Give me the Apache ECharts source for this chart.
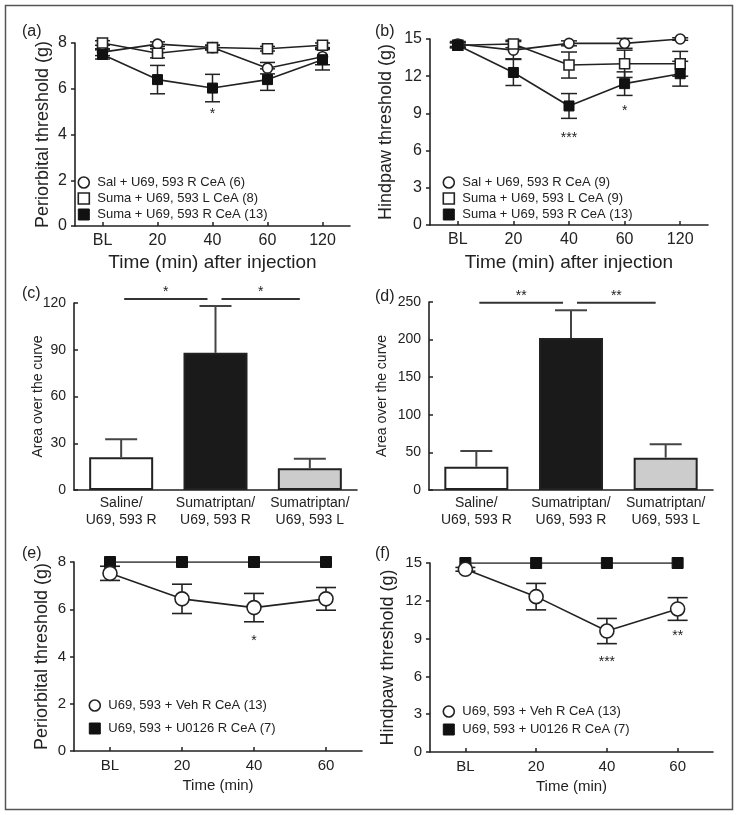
<!DOCTYPE html>
<html><head><meta charset="utf-8">
<script src="https://cdn.jsdelivr.net/npm/echarts@6/dist/echarts.min.js"></script>
<style>html,body{margin:0;padding:0;background:#fff}#chart{width:739px;height:815px}</style>
</head><body><div id="chart"></div>
<script>
// ---------- DATA ----------
const timeCatsAB = ['BL', '20', '40', '60', '120'];
const timeCatsEF = ['BL', '20', '40', '60'];
const groupCats = ['Saline/\nU69, 593 R', 'Sumatriptan/\nU69, 593 R', 'Sumatriptan/\nU69, 593 L'];

const nameASal = 'Sal + U69, 593 R CeA (6)';
const nameASumaL = 'Suma + U69, 593 L CeA (8)';
const nameSumaR = 'Suma + U69, 593 R CeA (13)';
const nameBSal = 'Sal + U69, 593 R CeA (9)';
const nameBSumaL = 'Suma + U69, 593 L CeA (9)';
const nameVeh = 'U69, 593 + Veh R CeA (13)';
const nameU0126 = 'U69, 593 + U0126 R CeA (7)';

const aSal = [7.6, 7.95, 7.8, 6.9, 7.4];
const aSalErr = [0.15, 0.1, 0.1, 0.25, 0.35];
const aSumaL = [8.0, 7.55, 7.8, 7.75, 7.9];
const aSumaLErr = [0.1, 0.2, 0.1, 0.1, 0.1];
const aSumaR = [7.5, 6.4, 6.03, 6.4, 7.27];
const aSumaRErr = [0.2, 0.62, 0.6, 0.47, 0.45];

const bSal = [14.6, 14.1, 14.65, 14.65, 15.0];
const bSalErr = [0.2, 0.7, 0.2, 0.4, 0.1];
const bSumaL = [14.5, 14.6, 12.9, 13.0, 13.0];
const bSumaLErr = [0.2, 0.3, 1.05, 1.1, 1.0];
const bSumaR = [14.5, 12.3, 9.6, 11.4, 12.2];
const bSumaRErr = [0.2, 1.05, 1.0, 0.95, 1.0];

const cArea = [21, 88, 14];
const cAreaErr = [11.5, 30, 6];
const dArea = [31, 202, 43];
const dAreaErr = [21, 37, 18];

const eVeh = [7.52, 6.44, 6.07, 6.44];
const eVehErr = [0.3, 0.62, 0.6, 0.48];
const eU0126 = [8, 8, 8, 8];
const fVeh = [14.5, 12.33, 9.6, 11.35];
const fVehErr = [0.15, 1.05, 1.0, 0.9];
const fU0126 = [15, 15, 15, 15];

// significance marks: [category index, value, text]
const aStars = [[2, 5.05, '*']];
const bStars = [[2, 7.3, '***'], [3, 9.5, '*']];
const eStars = [[2, 4.8, '*']];
const fStars = [[2, 7.4, '***'], [3, 9.5, '**']];
// comparison lines: [from category, to category, value, text]
const cCompare = [[0, 1, 122.6, '*'], [1, 2, 122.6, '*']];
const dCompare = [[0, 1, 249, '**'], [1, 2, 249, '**']];

// ---------- STYLE ----------
const FF = 'Liberation Sans, Arial, Helvetica, sans-serif';
const INK = '#222';
const barColors = ['#ffffff', '#1a1a1a', '#cccccc'];

const openCircle = { color: '#fff', borderColor: INK, borderWidth: 1.6 };
const openSquare = { color: '#fff', borderColor: INK, borderWidth: 1.6 };
const filledSquare = { color: '#111', borderColor: '#111', borderWidth: 1 };

function xTime(gi, cats, fs, name, nameGap, nameFs) {
  return {
    type: 'category', gridIndex: gi, data: cats, boundaryGap: true,
    axisLine: { lineStyle: { color: INK, width: 1.6 } },
    axisTick: { show: true, inside: true, alignWithLabel: true, length: 4, lineStyle: { color: INK, width: 1.5 } },
    axisLabel: { color: INK, fontSize: fs, margin: 7, fontFamily: FF, interval: 0 },
    name: name, nameLocation: 'middle', nameGap: nameGap, nameMoveOverlap: false,
    nameTextStyle: { fontSize: nameFs, color: INK, fontFamily: FF }
  };
}
function xGroup(gi) {
  return {
    type: 'category', gridIndex: gi, data: groupCats, boundaryGap: true,
    axisLine: { lineStyle: { color: INK, width: 1.6 } },
    axisTick: { show: false },
    axisLabel: { color: INK, fontSize: 14, lineHeight: 17, margin: 5, fontFamily: FF, interval: 0 }
  };
}
function yVal(gi, max, interval, fs, name, nameGap, nameFs, inside) {
  return {
    type: 'value', gridIndex: gi, min: 0, max: max, interval: interval,
    axisLine: { show: true, lineStyle: { color: INK, width: 1.6 } },
    axisTick: { show: true, inside: !!inside, length: 4, lineStyle: { color: INK, width: 1.5 } },
    splitLine: { show: false },
    axisLabel: { color: INK, fontSize: fs, margin: 8, fontFamily: FF },
    name: name, nameLocation: 'middle', nameRotate: 90, nameGap: nameGap, nameMoveOverlap: false,
    nameTextStyle: { fontSize: nameFs, color: INK, fontFamily: FF }
  };
}
function lineSeries(gi, name, data, symbol, size, style) {
  return {
    type: 'line', name: name, xAxisIndex: gi, yAxisIndex: gi, data: data,
    symbol: symbol, symbolSize: size, itemStyle: style,
    lineStyle: { color: INK, width: 1.6 }, z: 3, silent: true, animation: false
  };
}
function errSeries(gi, vals, errs, cap, upOnly, color, width) {
  return {
    type: 'custom', xAxisIndex: gi, yAxisIndex: gi, z: upOnly ? 4 : 2, silent: true, animation: false,
    data: vals.map((v, i) => [i, v, errs[i]]),
    renderItem: function (params, api) {
      const i = api.value(0), v = api.value(1), e = api.value(2);
      const top = api.coord([i, v + e]);
      const bot = api.coord([i, upOnly ? v : v - e]);
      const h = cap / 2;
      const st = { stroke: color, lineWidth: width };
      const ch = [
        { type: 'line', shape: { x1: top[0], y1: top[1], x2: bot[0], y2: bot[1] }, style: st },
        { type: 'line', shape: { x1: top[0] - h, y1: top[1], x2: top[0] + h, y2: top[1] }, style: st }
      ];
      if (!upOnly) ch.push({ type: 'line', shape: { x1: bot[0] - h, y1: bot[1], x2: bot[0] + h, y2: bot[1] }, style: st });
      return { type: 'group', children: ch };
    }
  };
}
function starSeries(gi, marks) {
  return {
    type: 'custom', xAxisIndex: gi, yAxisIndex: gi, z: 5, silent: true, animation: false,
    data: marks.map(m => [m[0], m[1]]),
    renderItem: function (params, api) {
      const c = api.coord([api.value(0), api.value(1)]);
      return { type: 'text', x: c[0], y: c[1] + 3.5,
        style: { text: marks[params.dataIndex][2], fill: INK, font: '14px ' + FF, align: 'center', verticalAlign: 'middle' } };
    }
  };
}
function compareSeries(gi, marks) {
  return {
    type: 'custom', xAxisIndex: gi, yAxisIndex: gi, z: 5, silent: true, animation: false, clip: false,
    data: marks.map(m => [m[0], m[1], m[2]]),
    renderItem: function (params, api) {
      const a = api.coord([api.value(0), api.value(2)]);
      const b = api.coord([api.value(1), api.value(2)]);
      const first = params.dataIndex === 0;
      const x1 = a[0] + (first ? 3 : 6), x2 = b[0] - (first ? 8 : 10);
      return { type: 'group', children: [
        { type: 'line', shape: { x1: x1, y1: a[1], x2: x2, y2: a[1] }, style: { stroke: '#333', lineWidth: 2 } },
        { type: 'text', x: (x1 + x2) / 2, y: a[1] - 7,
          style: { text: marks[params.dataIndex][3], fill: INK, font: '14px ' + FF, align: 'center', verticalAlign: 'middle' } }
      ] };
    }
  };
}
function legendItem(name, icon, style) {
  return { name: name, icon: icon, itemStyle: style };
}
function legendBox(left, top, gap, items) {
  return {
    orient: 'vertical', left: left, top: top, padding: 0, itemGap: gap,
    itemWidth: 11, itemHeight: 11, selectedMode: false,
    textStyle: { fontSize: 13, color: INK, fontFamily: FF, padding: [0, 0, 0, 3] },
    data: items
  };
}
function panelLabel(text, left, top) {
  return { text: text, left: left, top: top, padding: 0,
    textStyle: { fontSize: 16, fontWeight: 'normal', color: INK, fontFamily: FF } };
}

const chart = echarts.init(document.getElementById('chart'), null, { renderer: 'canvas' });
chart.setOption({
  animation: false,
  backgroundColor: '#fff',
  textStyle: { fontFamily: FF },
  title: [
    panelLabel('(a)', 22, 24), panelLabel('(b)', 375, 24),
    panelLabel('(c)', 22, 286), panelLabel('(d)', 375, 289),
    panelLabel('(e)', 22, 546), panelLabel('(f)', 375, 546)
  ],
  grid: [
    { left: 75, top: 43, width: 275, height: 183, containLabel: false, outerBoundsMode: 'none' },
    { left: 430, top: 39, width: 278, height: 186, containLabel: false, outerBoundsMode: 'none' },
    { left: 74, top: 303, width: 283, height: 187, containLabel: false, outerBoundsMode: 'none' },
    { left: 429, top: 302, width: 284, height: 188, containLabel: false, outerBoundsMode: 'none' },
    { left: 74, top: 562, width: 288, height: 189, containLabel: false, outerBoundsMode: 'none' },
    { left: 430, top: 563, width: 283, height: 189, containLabel: false, outerBoundsMode: 'none' }
  ],
  xAxis: [
    xTime(0, timeCatsAB, 16, 'Time (min) after injection', 27, 19),
    xTime(1, timeCatsAB, 16, 'Time (min) after injection', 28, 19),
    xGroup(2),
    xGroup(3),
    xTime(4, timeCatsEF, 15, 'Time (min)', 27, 15),
    xTime(5, timeCatsEF, 15, 'Time (min)', 27, 15)
  ],
  yAxis: [
    yVal(0, 8, 2, 16, 'Periorbital threshold (g)', 23, 18),
    yVal(1, 15, 3, 16, 'Hindpaw threshold (g)', 35, 18),
    yVal(2, 120, 30, 14, 'Area over the curve', 29, 14, true),
    yVal(3, 250, 50, 14, 'Area over the curve', 40, 14, true),
    yVal(4, 8, 2, 15, 'Periorbital threshold (g)', 23, 18),
    yVal(5, 15, 3, 15, 'Hindpaw threshold (g)', 33, 18)
  ],
  legend: [
    legendBox(77.5, 176, 3, [legendItem(nameASal, 'circle', openCircle), legendItem(nameASumaL, 'rect', openSquare), legendItem(nameSumaR, 'rect', filledSquare)]),
    legendBox(442.5, 176, 3, [legendItem(nameBSal, 'circle', openCircle), legendItem(nameBSumaL, 'rect', openSquare), legendItem(nameSumaR, 'rect', filledSquare)]),
    legendBox(88.5, 699, 10, [legendItem(nameVeh, 'circle', openCircle), legendItem(nameU0126, 'rect', filledSquare)]),
    legendBox(442.5, 705, 5, [legendItem(nameVeh, 'circle', openCircle), legendItem(nameU0126, 'rect', filledSquare)])
  ],
  graphic: [
    { type: 'rect', shape: { x: 5.5, y: 5.5, width: 727, height: 804 }, style: { fill: 'none', stroke: '#555', lineWidth: 1.5 }, silent: true, z: 0 }
  ],
  series: [
    // (a)
    errSeries(0, aSal, aSalErr, 15, false, INK, 1.5),
    errSeries(0, aSumaL, aSumaLErr, 15, false, INK, 1.5),
    errSeries(0, aSumaR, aSumaRErr, 15, false, INK, 1.5),
    lineSeries(0, nameASal, aSal, 'circle', 10, openCircle),
    lineSeries(0, nameASumaL, aSumaL, 'rect', 10, openSquare),
    lineSeries(0, nameSumaR, aSumaR, 'rect', 10, filledSquare),
    starSeries(0, aStars),
    // (b)
    errSeries(1, bSal, bSalErr, 16, false, INK, 1.5),
    errSeries(1, bSumaL, bSumaLErr, 16, false, INK, 1.5),
    errSeries(1, bSumaR, bSumaRErr, 16, false, INK, 1.5),
    lineSeries(1, nameBSal, bSal, 'circle', 10, openCircle),
    lineSeries(1, nameBSumaL, bSumaL, 'rect', 10, openSquare),
    lineSeries(1, nameSumaR, bSumaR, 'rect', 10, filledSquare),
    starSeries(1, bStars),
    // (c)
    { type: 'bar', xAxisIndex: 2, yAxisIndex: 2, barWidth: 64, silent: true, animation: false,
      data: cArea.map((v, i) => ({ value: v, itemStyle: { color: barColors[i] } })),
      itemStyle: { borderColor: INK, borderWidth: 2 } },
    errSeries(2, cArea, cAreaErr, 32, true, '#444', 2),
    compareSeries(2, cCompare),
    // (d)
    { type: 'bar', xAxisIndex: 3, yAxisIndex: 3, barWidth: 64, silent: true, animation: false,
      data: dArea.map((v, i) => ({ value: v, itemStyle: { color: barColors[i] } })),
      itemStyle: { borderColor: INK, borderWidth: 2 } },
    errSeries(3, dArea, dAreaErr, 32, true, '#444', 2),
    compareSeries(3, dCompare),
    // (e)
    errSeries(4, eVeh, eVehErr, 20, false, INK, 1.6),
    lineSeries(4, nameU0126, eU0126, 'rect', 11, filledSquare),
    lineSeries(4, nameVeh, eVeh, 'circle', 14, openCircle),
    starSeries(4, eStars),
    // (f)
    errSeries(5, fVeh, fVehErr, 20, false, INK, 1.6),
    lineSeries(5, nameU0126, fU0126, 'rect', 11, filledSquare),
    lineSeries(5, nameVeh, fVeh, 'circle', 14, openCircle),
    starSeries(5, fStars)
  ]
});
</script>
</body></html>
